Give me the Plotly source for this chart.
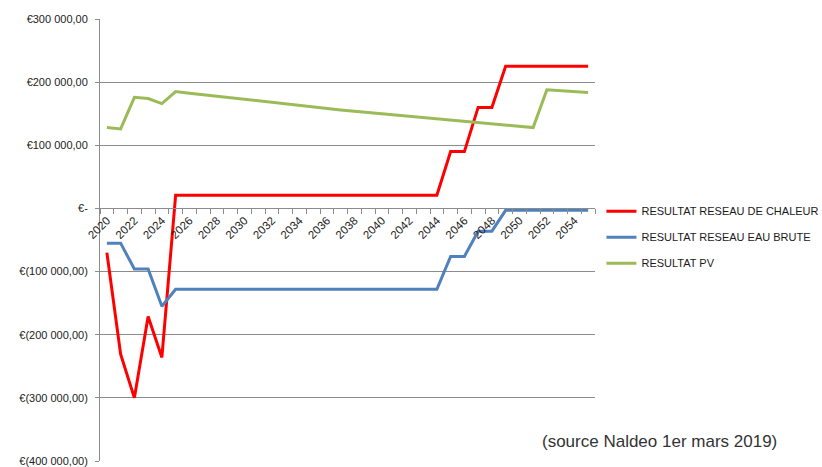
import plotly.graph_objects as go

# Years of the projection
years = list(range(2020, 2056))

# Annual results (EUR)
reseau_chaleur = [
    -70000, -231000, -300000, -171000, -236000,
    21000, 21000, 21000, 21000, 21000, 21000, 21000, 21000, 21000, 21000,
    21000, 21000, 21000, 21000, 21000, 21000, 21000, 21000, 21000, 21000,
    90000, 90000, 160000, 160000,
    225000, 225000, 225000, 225000, 225000, 225000, 225000,
]
reseau_eau_brute = [
    -55000, -55000, -96000, -96000, -155000,
    -128000, -128000, -128000, -128000, -128000, -128000, -128000, -128000, -128000, -128000,
    -128000, -128000, -128000, -128000, -128000, -128000, -128000, -128000, -128000, -128000,
    -76000, -76000, -36000, -36000,
    -3000, -3000, -3000, -3000, -3000, -3000, -3000,
]
pv = [
    128000, 126000, 176000, 174000, 166000,
    185000, 182500, 180000, 177500, 175000, 172500, 170000, 167500, 165000, 162500,
    160300, 158000, 156000, 154000, 152000, 150000, 148000, 145800, 143600, 141400,
    139200, 137000, 135000, 133000, 131000, 129500, 128000,
    188000, 186500, 185000, 183500,
]

series = [
    ("RESULTAT RESEAU DE CHALEUR", reseau_chaleur, "#ff0000"),
    ("RESULTAT RESEAU EAU BRUTE", reseau_eau_brute, "#4f81bd"),
    ("RESULTAT PV", pv, "#9bbb59"),
]

y_ticks = [300000, 200000, 100000, 0, -100000, -200000, -300000, -400000]
y_labels = ["€300 000,00", "€200 000,00", "€100 000,00", "€-",
            "€(100 000,00)", "€(200 000,00)", "€(300 000,00)", "€(400 000,00)"]

x_label_years = list(range(2020, 2056, 2))

FONT = "Liberation Sans, Arial, sans-serif"
GRID = "#8c8c8c"

fig = go.Figure()
for i, (name, vals, color) in enumerate(series):
    fig.add_trace(go.Scatter(
        x=years, y=vals, mode="lines", name=name,
        line=dict(color=color, width=3),
        legendgroup=f"g{i}",
    ))

fig.update_layout(
    width=822, height=467,
    margin=dict(l=100, r=227, t=19, b=6, autoexpand=False),
    paper_bgcolor="white", plot_bgcolor="white",
    font=dict(family=FONT, size=11, color="#222222"),
    showlegend=True,
    legend=dict(
        x=1.013, y=0.598, xanchor="left", yanchor="top",
        font=dict(family=FONT, size=11, color="#1a1a1a"),
        tracegroupgap=7, itemwidth=30,
        bgcolor="rgba(0,0,0,0)",
    ),
    xaxis=dict(
        range=[2019.5, 2055.5],
        anchor="free", position=4 / 7,
        showgrid=False, zeroline=False,
        showline=True, linecolor=GRID, linewidth=1,
        tickmode="array", tickvals=x_label_years,
        ticktext=[str(y) for y in x_label_years],
        ticks="", tickangle=-45,
        tickfont=dict(family=FONT, size=11.5, color="#222222"),
        minor=dict(
            tickmode="array",
            tickvals=[y + 0.5 for y in range(2019, 2056)],
            ticks="outside", ticklen=5, tickcolor=GRID, tickwidth=1,
            showgrid=False,
        ),
    ),
    yaxis=dict(
        range=[-400000, 300000],
        tickmode="array", tickvals=y_ticks, ticktext=y_labels,
        showgrid=True, gridcolor=GRID, gridwidth=1,
        zeroline=False,
        showline=True, linecolor=GRID, linewidth=1,
        ticks="outside", ticklen=4, tickcolor=GRID,
        ticklabelstandoff=5,
        tickfont=dict(family=FONT, size=11, color="#222222"),
    ),
)

fig.add_annotation(
    text="(source Naldeo 1er mars 2019)",
    xref="paper", yref="paper", x=1.372, y=0.045,
    xanchor="right", yanchor="middle", showarrow=False,
    font=dict(family=FONT, size=17, color="#333333"),
)

fig.write_html("out.html")
